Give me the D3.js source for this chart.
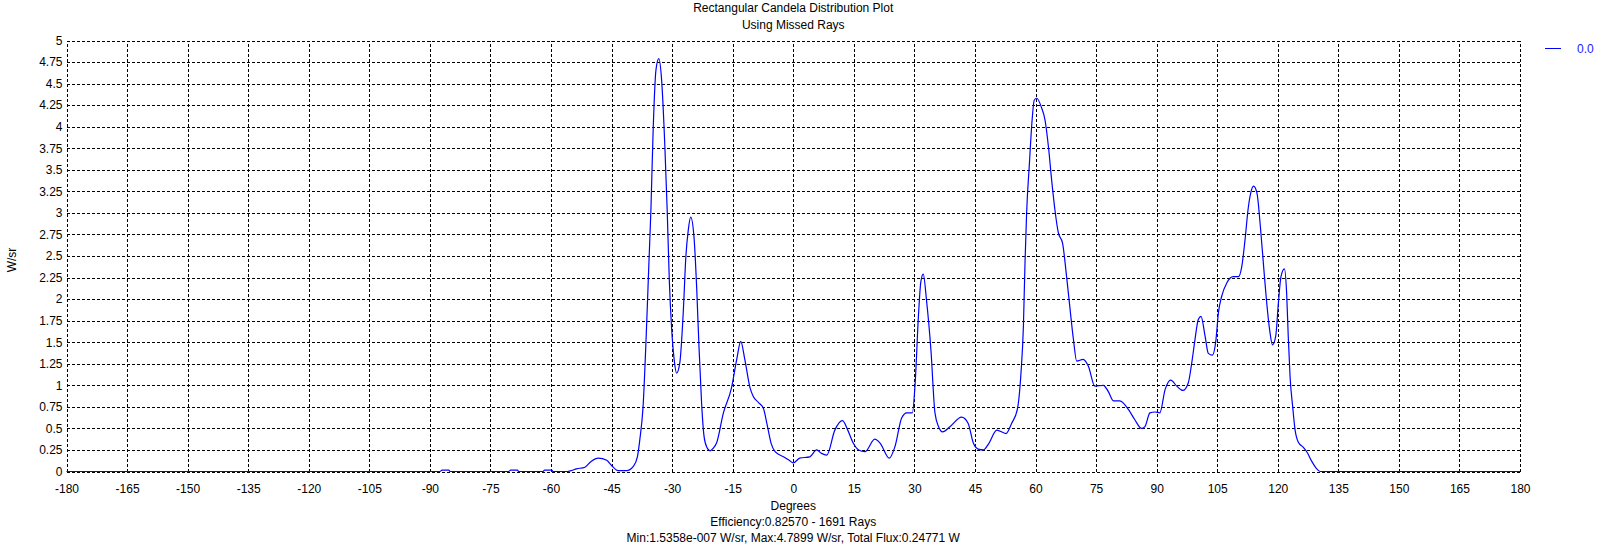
<!DOCTYPE html>
<html>
<head>
<meta charset="utf-8">
<script src="https://cdn.jsdelivr.net/npm/d3@7"></script>
<style>
  body { margin: 0; background: #fff; }
  svg { display: block; font-family: "Liberation Sans", Arial, sans-serif; }
  .grid line { stroke: #000; stroke-dasharray: 3,2; shape-rendering: crispEdges; }
  .grid text { font-size: 12px; fill: #000; }
  .label { font-size: 12px; fill: #000; }
</style>
</head>
<body>
<div id="chart"></div>
<script>
// data
const degrees = [
  -180, -90, -87.5, -87, -85.3, -85, -70.5, -70, -68.3, -68, -62, -61.6, -59.8, -59.5,
  -56, -55, -53.7, -51.6, -50, -48.3, -46.2, -45, -43.4, -41.3, -39.6, -38.6, -38, -37.2,
  -36.3, -35.75, -35.25, -34.7, -34, -33.3, -32.6, -31.8, -31.2, -30.7, -30.1, -29.5,
  -28.9, -28.1, -27.25, -26.6, -26, -25.4, -24.6, -23.9, -23.35, -22.7, -22.1, -21.4,
  -20.6, -19.8, -19, -17.3, -15.3, -14, -13, -12, -10.7, -9.9, -8.6, -7.4, -6.5, -5.5,
  -4.5, -2.4, -1, 0, 1.6, 4.1, 5.8, 7, 8.3, 10.3, 12.2, 13.5, 14.85, 16.2, 17.75, 20.2,
  21.5, 23.8, 25.2, 26.85, 28.1, 29.5, 30.2, 31, 31.6, 32.2, 33, 34.1, 35.1, 36, 37,
  38.8, 41.7, 43.3, 44.6, 45.8, 47.1, 48.5, 50.4, 52.7, 54.1, 55.5, 56.4, 57, 57.4, 57.8,
  58.5, 59.1, 59.7, 60.3, 61.5, 62.35, 63.2, 64, 64.8, 65.65, 66.7, 67.7, 68.5, 69.4,
  70.2, 71.8, 73.1, 74.7, 76.8, 78, 79.3, 80.9, 83, 84.6, 86.3, 87.1, 88.35, 89.6, 90.8,
  92.1, 93.5, 95, 96.5, 97.85, 98.7, 99.5, 100.3, 101, 102, 102.8, 103.8, 104.7, 105.3,
  106.1, 107.4, 109, 110.25, 111.1, 111.9, 112.7, 113.3, 114, 114.85, 115.7, 116.5,
  117.2, 118, 118.7, 119.5, 120.15, 120.8, 121.65, 122.2, 122.6, 123.05, 123.7, 124.3,
  125.1, 126.35, 127.3, 128.4, 129.5, 130.5, 180
];
const intensity = [
  0, 0, 0, 0.015, 0.015, 0, 0, 0.015, 0.015, 0, 0, 0.015, 0.015, 0,
  0, 0.01, 0.03, 0.05, 0.12, 0.155, 0.13, 0.07, 0.01, 0.01, 0.06, 0.17, 0.37, 0.75,
  1.72, 2.42, 3.04, 3.96, 4.66, 4.79, 4.54, 3.77, 3.0, 2.22, 1.64, 1.3,
  1.14, 1.26, 1.84, 2.49, 2.8, 2.95, 2.73, 2.11, 1.45, 0.79, 0.41, 0.28,
  0.24, 0.27, 0.33, 0.68, 0.97, 1.3, 1.51, 1.3, 0.97, 0.87, 0.8, 0.735, 0.55, 0.33,
  0.23, 0.17, 0.13, 0.1, 0.155, 0.17, 0.25, 0.21, 0.19, 0.48, 0.59, 0.48, 0.33, 0.25, 0.23, 0.375,
  0.33, 0.155, 0.29, 0.62, 0.68, 0.68, 1.03, 1.8, 2.2, 2.29, 1.99, 1.41, 0.68, 0.52, 0.46,
  0.52, 0.63, 0.56, 0.33, 0.26, 0.25, 0.33, 0.48, 0.44, 0.56, 0.72, 1.14, 1.68, 2.42, 3.0,
  3.58, 4.04, 4.31, 4.33, 4.22, 4.08, 3.77, 3.38, 3.04, 2.77, 2.65, 2.26, 1.91, 1.53,
  1.28, 1.3, 1.22, 0.99, 1.0, 0.93, 0.82, 0.82, 0.72, 0.6, 0.5, 0.52, 0.68, 0.69, 0.68,
  0.95, 1.06, 0.99, 0.94, 1.03, 1.26, 1.53, 1.76, 1.8, 1.57, 1.37, 1.35, 1.53, 1.84,
  2.03, 2.19, 2.26, 2.26, 2.38, 2.69, 3.06, 3.23, 3.31, 3.23, 2.84, 2.38,
  1.99, 1.64, 1.47, 1.57, 1.95, 2.26, 2.35, 2.07, 1.57, 1.1, 0.75, 0.48,
  0.34, 0.28, 0.22, 0.12, 0.04, 0, 0
];
const xTicks = [-180, -165, -150, -135, -120, -105, -90, -75, -60, -45, -30, -15, 0,
  15, 30, 45, 60, 75, 90, 105, 120, 135, 150, 165, 180];
const yTicks = [0, 0.25, 0.5, 0.75, 1, 1.25, 1.5, 1.75, 2, 2.25, 2.5, 2.75, 3, 3.25,
  3.5, 3.75, 4, 4.25, 4.5, 4.75, 5];
const titleLines = ['Rectangular Candela Distribution Plot', 'Using Missed Rays'];
const footerLines = ['Efficiency:0.82570 - 1691 Rays',
  'Min:1.5358e-007 W/sr, Max:4.7899 W/sr, Total Flux:0.24771 W'];
const seriesName = '0.0';

const totalWidth = 1610,
      totalHeight = 545,
      margins = { top: 40.5, right: 90, bottom: 73.5, left: 66.5 };

const width = totalWidth - margins.left - margins.right;
const height = totalHeight - margins.top - margins.bottom;

const data = degrees.map((d, i) => ({ deg: d, val: intensity[i] }));

const xScale = d3.scaleLinear().domain([-180, 180]).range([0, width]);
const yScale = d3.scaleLinear().domain([0, 5]).range([height, 0]);

const xAxis = d3.axisBottom(xScale)
  .tickValues(xTicks)
  .tickFormat(d => d)
  .tickSize(-height)
  .tickPadding(13);

const yAxis = d3.axisLeft(yScale)
  .tickValues(yTicks)
  .tickFormat(d => d)
  .tickSize(-width)
  .tickPadding(4);

const line = d3.line()
  .x(d => xScale(d.deg))
  .y(d => yScale(d.val))
  .curve(d3.curveMonotoneX);

const $svg = d3.select('#chart').append('svg')
  .attr('width', totalWidth)
  .attr('height', totalHeight);

const $g = $svg.append('g')
  .attr('transform', `translate(${margins.left}, ${margins.top})`);

const $xAxisGroup = $g.append('g')
  .classed('grid', true)
  .attr('transform', `translate(0, ${height})`)
  .call(xAxis);

const $yAxisGroup = $g.append('g')
  .classed('grid', true)
  .call(yAxis);

$xAxisGroup.select('.domain').remove();
$yAxisGroup.select('.domain').remove();

$g.append('path')
  .datum(data)
  .attr('d', line)
  .style('fill', 'none')
  .style('stroke', '#0000ff')
  .style('stroke-width', 1.2);

// titles
const cx = margins.left + width / 2;
$svg.selectAll('.title')
  .data(titleLines)
  .enter()
  .append('text')
  .classed('label title', true)
  .attr('x', cx)
  .attr('y', (d, i) => 12 + i * 17)
  .attr('text-anchor', 'middle')
  .text(d => d);

$svg.append('text')
  .classed('label', true)
  .attr('x', cx)
  .attr('y', 509.5)
  .attr('text-anchor', 'middle')
  .text('Degrees');

$svg.selectAll('.footer')
  .data(footerLines)
  .enter()
  .append('text')
  .classed('label footer', true)
  .attr('x', cx)
  .attr('y', (d, i) => 526 + i * 15.5)
  .attr('text-anchor', 'middle')
  .text(d => d);

$svg.append('text')
  .classed('label', true)
  .attr('transform', 'translate(16, 260) rotate(-90)')
  .attr('text-anchor', 'middle')
  .text('W/sr');

// legend
$svg.append('line')
  .attr('x1', 1545).attr('x2', 1561)
  .attr('y1', 48.5).attr('y2', 48.5)
  .style('stroke', '#0000ff');

$svg.append('text')
  .classed('label', true)
  .attr('x', 1577)
  .attr('y', 52.5)
  .style('fill', '#2020ff')
  .text(seriesName);
</script>
</body>
</html>
